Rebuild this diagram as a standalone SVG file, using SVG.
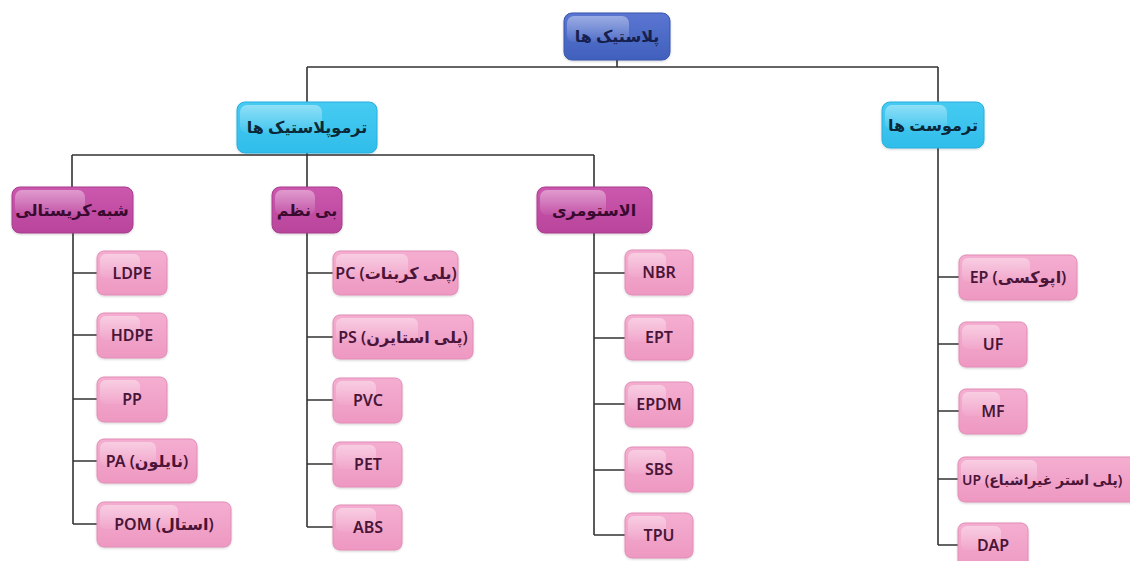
<svg xmlns="http://www.w3.org/2000/svg" width="1130" height="561" viewBox="0 0 1130 561">
  <defs>
    <linearGradient id="gBlue" x1="0" y1="0" x2="0" y2="1">
      <stop offset="0" stop-color="#5a76d2"/>
      <stop offset="1" stop-color="#4060bc"/>
    </linearGradient>
    <linearGradient id="gCyan" x1="0" y1="0" x2="0" y2="1">
      <stop offset="0" stop-color="#46cbf2"/>
      <stop offset="1" stop-color="#30bdea"/>
    </linearGradient>
    <linearGradient id="gPurple" x1="0" y1="0" x2="0" y2="1">
      <stop offset="0" stop-color="#cc58ae"/>
      <stop offset="1" stop-color="#b8459b"/>
    </linearGradient>
    <linearGradient id="gPink" x1="0" y1="0" x2="0" y2="1">
      <stop offset="0" stop-color="#f4aed0"/>
      <stop offset="1" stop-color="#ee98c2"/>
    </linearGradient>
    <linearGradient id="gShine" x1="0" y1="0" x2="0" y2="1">
      <stop offset="0" stop-color="#ffffff" stop-opacity="0.4"/>
      <stop offset="1" stop-color="#ffffff" stop-opacity="0.05"/>
    </linearGradient>
    <filter id="soft" x="-10%" y="-10%" width="120%" height="130%">
      <feDropShadow dx="0" dy="1" stdDeviation="1" flood-color="#000" flood-opacity="0.18"/>
    </filter>
  </defs>
  <style>
    .box { stroke-width: 1; filter: url(#soft); }
    .root { fill: url(#gBlue); stroke: #3a55ac; }
    .main { fill: url(#gCyan); stroke: #28aede; }
    .sub { fill: url(#gPurple); stroke: #a83c8c; }
    .leaf { fill: url(#gPink); stroke: #e28cb6; }
    .shine { fill: url(#gShine); }
    text { font-family: "Noto Sans", "DejaVu Sans", sans-serif; font-size: 16px; font-weight: 600; text-anchor: middle; }
    .t-root { fill: #16204e; }
    .t-main { fill: #0b2838; }
    .t-sub { fill: #3a0a30; }
    .t-leaf { fill: #4a1538; }
    .t-long { font-size: 14px; text-anchor: start; }
    .wire { fill: none; stroke: #333333; stroke-width: 1.6; }
  </style>

  <rect width="1130" height="561" fill="#ffffff"/>

  <!-- connectors -->
  <g id="connectors">
    <path class="wire" d="M617 60 V67 M307 67 H938 M307 67 V102 M938 67 V102"/>
    <path class="wire" d="M307 153 V155 M72 155 H594 M72 155 V187 M307 155 V187 M594 155 V187"/>
    <path class="wire" d="M73 233 V524 M73 273 H97 M73 335 H97 M73 399 H97 M73 461 H97 M73 524 H97"/>
    <path class="wire" d="M307 233 V527 M307 273 H333 M307 337 H333 M307 400 H333 M307 464 H333 M307 527 H333"/>
    <path class="wire" d="M594 233 V535 M594 273 H625 M594 338 H625 M594 404 H625 M594 470 H625 M594 535 H625"/>
    <path class="wire" d="M938 148 V545 M938 277 H959 M938 344 H959 M938 411 H959 M938 479 H959 M938 545 H959"/>
  </g>

  <!-- top level -->
  <g id="plastics">
    <rect class="box root" x="564" y="13" width="106" height="47" rx="8"/>
    <rect class="shine" x="567" y="16" width="62" height="26" rx="7"/>
    <text class="t-root" x="617" y="42">پلاستیک ها</text>
  </g>

  <!-- second level -->
  <g id="thermoplastics">
    <rect class="box main" x="237" y="102" width="140" height="51" rx="8"/>
    <rect class="shine" x="240" y="105" width="82" height="28" rx="7"/>
    <text class="t-main" x="307" y="133">ترموپلاستیک ها</text>
  </g>
  <g id="thermosets">
    <rect class="box main" x="882" y="102" width="102" height="46" rx="8"/>
    <rect class="shine" x="885" y="105" width="62" height="25" rx="7"/>
    <text class="t-main" x="933" y="131">ترموست ها</text>
  </g>

  <!-- third level -->
  <g id="semi-crystalline">
    <rect class="box sub" x="12" y="187" width="121" height="46" rx="8"/>
    <rect class="shine" x="15" y="190" width="70" height="25" rx="7"/>
    <text class="t-sub" x="72" y="216">شبه-کریستالی</text>
  </g>
  <g id="amorphous">
    <rect class="box sub" x="272" y="187" width="70" height="46" rx="8"/>
    <rect class="shine" x="275" y="190" width="40" height="25" rx="7"/>
    <text class="t-sub" x="307" y="216">بی نظم</text>
  </g>
  <g id="elastomers">
    <rect class="box sub" x="537" y="187" width="115" height="46" rx="8"/>
    <rect class="shine" x="540" y="190" width="66" height="25" rx="7"/>
    <text class="t-sub" x="594" y="216">الاستومری</text>
  </g>

  <!-- semi-crystalline leaves -->
  <g id="ldpe">
    <rect class="box leaf" x="97" y="251" width="70" height="44" rx="7"/>
    <rect class="shine" x="100" y="254" width="40" height="24" rx="6"/>
    <text class="t-leaf" x="132" y="279">LDPE</text>
  </g>
  <g id="hdpe">
    <rect class="box leaf" x="97" y="313" width="70" height="45" rx="7"/>
    <rect class="shine" x="100" y="316" width="40" height="24" rx="6"/>
    <text class="t-leaf" x="132" y="341">HDPE</text>
  </g>
  <g id="pp">
    <rect class="box leaf" x="97" y="377" width="70" height="45" rx="7"/>
    <rect class="shine" x="100" y="380" width="40" height="24" rx="6"/>
    <text class="t-leaf" x="132" y="405">PP</text>
  </g>
  <g id="pa">
    <rect class="box leaf" x="97" y="439" width="100" height="44" rx="7"/>
    <rect class="shine" x="100" y="442" width="56" height="24" rx="6"/>
    <text class="t-leaf" x="147" y="467">PA (نایلون)</text>
  </g>
  <g id="pom">
    <rect class="box leaf" x="97" y="502" width="134" height="45" rx="7"/>
    <rect class="shine" x="100" y="505" width="78" height="24" rx="6"/>
    <text class="t-leaf" x="164" y="530">POM (استال)</text>
  </g>

  <!-- amorphous leaves -->
  <g id="pc">
    <rect class="box leaf" x="333" y="251" width="125" height="44" rx="7"/>
    <rect class="shine" x="336" y="254" width="72" height="24" rx="6"/>
    <text class="t-leaf" x="396" y="279">PC (پلی کربنات)</text>
  </g>
  <g id="ps">
    <rect class="box leaf" x="333" y="315" width="140" height="44" rx="7"/>
    <rect class="shine" x="336" y="318" width="82" height="24" rx="6"/>
    <text class="t-leaf" x="403" y="343">PS (پلی استایرن)</text>
  </g>
  <g id="pvc">
    <rect class="box leaf" x="333" y="378" width="69" height="45" rx="7"/>
    <rect class="shine" x="336" y="381" width="40" height="24" rx="6"/>
    <text class="t-leaf" x="368" y="406">PVC</text>
  </g>
  <g id="pet">
    <rect class="box leaf" x="333" y="442" width="69" height="45" rx="7"/>
    <rect class="shine" x="336" y="445" width="40" height="24" rx="6"/>
    <text class="t-leaf" x="368" y="470">PET</text>
  </g>
  <g id="abs">
    <rect class="box leaf" x="333" y="505" width="69" height="45" rx="7"/>
    <rect class="shine" x="336" y="508" width="40" height="24" rx="6"/>
    <text class="t-leaf" x="368" y="533">ABS</text>
  </g>

  <!-- elastomer leaves -->
  <g id="nbr">
    <rect class="box leaf" x="625" y="250" width="68" height="45" rx="7"/>
    <rect class="shine" x="628" y="253" width="38" height="24" rx="6"/>
    <text class="t-leaf" x="659" y="278">NBR</text>
  </g>
  <g id="ept">
    <rect class="box leaf" x="625" y="315" width="68" height="45" rx="7"/>
    <rect class="shine" x="628" y="318" width="38" height="24" rx="6"/>
    <text class="t-leaf" x="659" y="343">EPT</text>
  </g>
  <g id="epdm">
    <rect class="box leaf" x="625" y="382" width="68" height="45" rx="7"/>
    <rect class="shine" x="628" y="385" width="38" height="24" rx="6"/>
    <text class="t-leaf" x="659" y="410">EPDM</text>
  </g>
  <g id="sbs">
    <rect class="box leaf" x="625" y="447" width="68" height="45" rx="7"/>
    <rect class="shine" x="628" y="450" width="38" height="24" rx="6"/>
    <text class="t-leaf" x="659" y="475">SBS</text>
  </g>
  <g id="tpu">
    <rect class="box leaf" x="625" y="513" width="68" height="45" rx="7"/>
    <rect class="shine" x="628" y="516" width="38" height="24" rx="6"/>
    <text class="t-leaf" x="659" y="541">TPU</text>
  </g>

  <!-- thermoset leaves -->
  <g id="ep">
    <rect class="box leaf" x="959" y="255" width="118" height="45" rx="7"/>
    <rect class="shine" x="962" y="258" width="68" height="24" rx="6"/>
    <text class="t-leaf" x="1018" y="283">EP (اپوکسی)</text>
  </g>
  <g id="uf">
    <rect class="box leaf" x="959" y="322" width="68" height="45" rx="7"/>
    <rect class="shine" x="962" y="325" width="38" height="24" rx="6"/>
    <text class="t-leaf" x="993" y="350">UF</text>
  </g>
  <g id="mf">
    <rect class="box leaf" x="959" y="389" width="68" height="45" rx="7"/>
    <rect class="shine" x="962" y="392" width="38" height="24" rx="6"/>
    <text class="t-leaf" x="993" y="417">MF</text>
  </g>
  <g id="up">
    <rect class="box leaf" x="958" y="457" width="185" height="45" rx="7"/>
    <rect class="shine" x="961" y="460" width="76" height="24" rx="6"/>
    <text class="t-leaf t-long" x="962" y="485">UP (پلی استر غیراشباع)</text>
  </g>
  <g id="dap">
    <rect class="box leaf" x="958" y="523" width="70" height="48" rx="7"/>
    <rect class="shine" x="961" y="526" width="40" height="24" rx="6"/>
    <text class="t-leaf" x="993" y="551">DAP</text>
  </g>
</svg>
